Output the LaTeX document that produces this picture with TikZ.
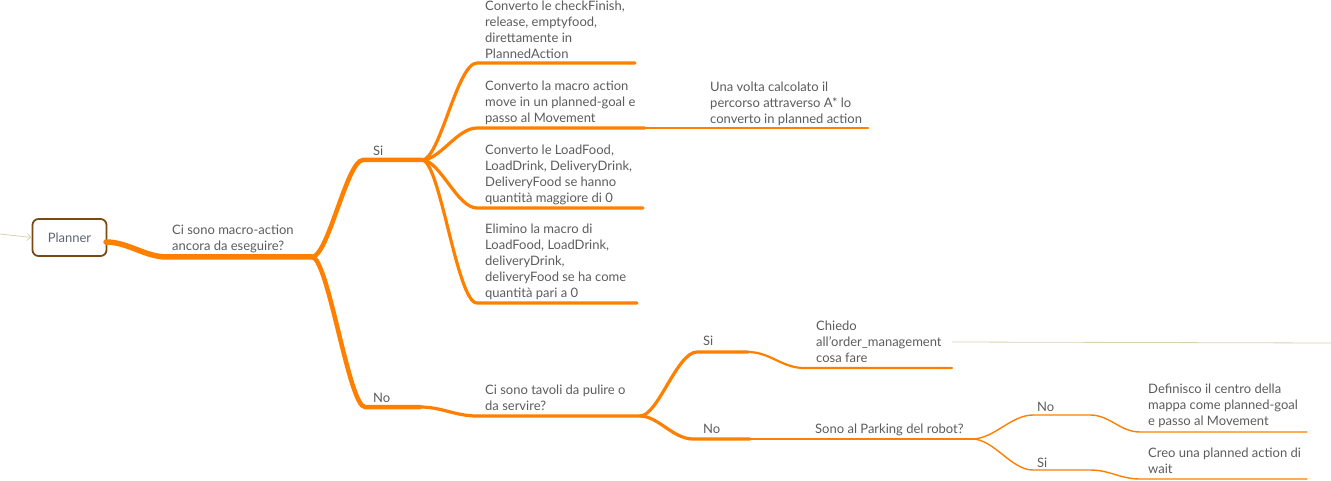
\documentclass[tikz,border=0pt]{standalone}
\usepackage{fontspec}
\setmainfont{Lato}
\usetikzlibrary{arrows.meta}
\definecolor{orng}{HTML}{FF8000}
\definecolor{txtgrey}{HTML}{5C5C5C}
\definecolor{plgrey}{HTML}{5E6572}
\definecolor{boxbrown}{HTML}{7A4A14}
\definecolor{beige}{HTML}{D6D2AE}
\begin{document}
\begin{tikzpicture}[x=1pt,y=-1pt,
  txt/.style={align=left, inner sep=0pt, text depth=0pt, anchor=south west,
    text=txtgrey, font=\fontsize{13}{16}\selectfont},
  lvl0/.style={draw=orng, line width=5.5pt, line cap=round},
  lvl1/.style={draw=orng, line width=4.5pt, line cap=round},
  lvl2/.style={draw=orng, line width=3.2pt, line cap=round},
  lvl3/.style={draw=orng, line width=2.2pt, line cap=round},
  lvl4/.style={draw=orng, line width=1.4pt, line cap=round},
  rootbox/.style={draw=boxbrown, line width=1.8pt, rounded corners=6pt, fill=white,
    minimum width=74pt, minimum height=37pt, inner sep=0pt,
    text=plgrey, font=\fontsize{13}{16}\selectfont}
]
\useasboundingbox (0,0) rectangle (1331,481);

% root
\coordinate (in) at (0,234);
\node[rootbox] (planner) at (69.5,237.5) {Planner};
\draw[beige, line width=0.8pt, -{Straight Barb[length=4pt,width=7pt]}] (in) -- (planner.west);

% coordinates
\coordinate (r0) at (106,242);
\coordinate (r1) at (167,257);
\coordinate (f0) at (312,257);
\coordinate (si0) at (363,160);
\coordinate (f1) at (422,160);
\coordinate (no0) at (365,407);
\coordinate (no1) at (420,407);
\coordinate (tv0) at (477,416);
\coordinate (f2) at (640,416);
\coordinate (a0) at (477,63);  \coordinate (a1) at (635,63);
\coordinate (b0) at (477,128); \coordinate (b1) at (645,128);
\coordinate (b2) at (868,128);
\coordinate (c0) at (477,208); \coordinate (c1) at (643,208);
\coordinate (d0) at (477,303); \coordinate (d1) at (637,303);
\coordinate (s0) at (697,352); \coordinate (s1) at (748,352);
\coordinate (ch0) at (804,368); \coordinate (ch1) at (952,368);
\coordinate (rel0) at (952,342); \coordinate (rel1) at (1331,343);
\coordinate (n0) at (693,439); \coordinate (n1) at (750,439);
\coordinate (f3) at (972,439);
\coordinate (pn0) at (1033,415); \coordinate (pn1) at (1090,415);
\coordinate (pn2) at (1140,432); \coordinate (pn3) at (1307,432);
\coordinate (ps0) at (1033,470); \coordinate (ps1) at (1090,470);
\coordinate (ps2) at (1140,479); \coordinate (ps3) at (1307,479);

% branches
\draw[lvl0] (r0) .. controls +(22,0) and +(-22,0) .. (r1) -- (f0);
\draw[lvl1] (f0) .. controls +(16,0) and +(-16,0) .. (si0) -- (f1);
\draw[lvl1] (f0) .. controls +(16,0) and +(-16,0) .. (no0) -- (no1);
\draw[lvl2] (no1) .. controls +(22,0) and +(-22,0) .. (tv0) -- (f2);
\draw[lvl2] (f1) .. controls +(18,0) and +(-20,0) .. (a0) -- (a1);
\draw[lvl2] (f1) .. controls +(18,0) and +(-20,0) .. (b0) -- (b1);
\draw[lvl3] (b1) -- (b2);
\draw[lvl2] (f1) .. controls +(18,0) and +(-20,0) .. (c0) -- (c1);
\draw[lvl2] (f1) .. controls +(18,0) and +(-20,0) .. (d0) -- (d1);
\draw[lvl2] (f2) .. controls +(18,0) and +(-20,0) .. (s0) -- (s1);
\draw[lvl3] (s1) .. controls +(22,0) and +(-22,0) .. (ch0) -- (ch1);
\draw[beige, line width=0.8pt] (rel0) -- (rel1);
\draw[lvl2] (f2) .. controls +(18,0) and +(-20,0) .. (n0) -- (n1);
\draw[lvl3] (n1) -- (f3);
\draw[lvl4] (f3) .. controls +(22,0) and +(-22,0) .. (pn0) -- (pn1)
   .. controls +(20,0) and +(-20,0) .. (pn2) -- (pn3);
\draw[lvl4] (f3) .. controls +(22,0) and +(-22,0) .. (ps0) -- (ps1)
   .. controls +(20,0) and +(-20,0) .. (ps2) -- (ps3);

% texts
\node[txt] (troot) at (172,251) {Ci sono macro-action\\ancora da eseguire?};
\node[txt] (tsi) at (373,156) {Si};
\node[txt] (tno) at (373,403) {No};
\node[txt] (ta) at (485,59) {Converto le checkFinish,\\release, emptyfood,\\direttamente in\\PlannedAction};
\node[txt] (tb) at (485,123) {Converto la macro action\\move in un planned-goal e\\passo al Movement};
\node[txt] (tb2) at (710,124) {Una volta calcolato il\\percorso attraverso A* lo\\converto in planned action};
\node[txt] (tc) at (485,203) {Converto le LoadFood,\\LoadDrink, DeliveryDrink,\\DeliveryFood se hanno\\quantità maggiore di 0};
\node[txt] (td) at (485,298) {Elimino la macro di\\LoadFood, LoadDrink,\\deliveryDrink,\\deliveryFood se ha come\\quantità pari a 0};
\node[txt] (ttv) at (485,411) {Ci sono tavoli da pulire o\\da servire?};
\node[txt] (tsi2) at (703,346) {Si};
\node[txt] (tch) at (816,363) {Chiedo\\all’order\_management\\cosa fare};
\node[txt] (tno2) at (703,434) {No};
\node[txt] (tpk) at (815,434) {Sono al Parking del robot?};
\node[txt] (tno3) at (1037,412) {No};
\node[txt] (tdef) at (1148,426) {Definisco il centro della\\mappa come planned-goal\\e passo al Movement};
\node[txt] (tsi3) at (1037,468) {Si};
\node[txt] (tcreo) at (1148,474) {Creo una planned action di\\wait};
\end{tikzpicture}
\end{document}
